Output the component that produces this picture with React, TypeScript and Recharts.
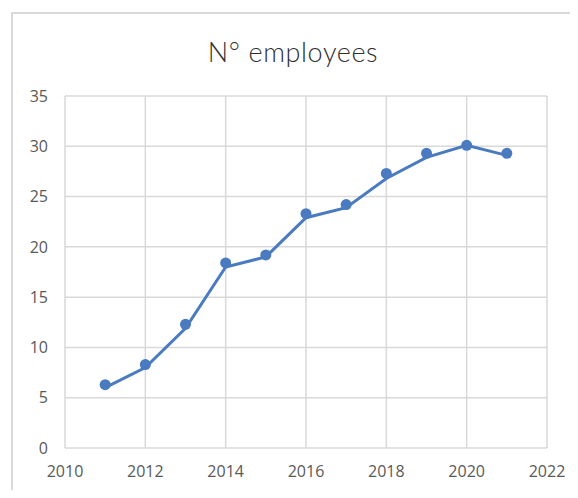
import React from "react";
import { ComposedChart, Line, Scatter, XAxis, YAxis, CartesianGrid } from "recharts";

const years = [2011, 2012, 2013, 2014, 2015, 2016, 2017, 2018, 2019, 2020, 2021];
const employees = [6.3, 8.3, 12.3, 18.4, 19.2, 23.3, 24.2, 27.3, 29.3, 30.1, 29.3];
const trend = [6.0, 8.0, 11.9, 18.0, 19.0, 22.9, 23.9, 26.8, 28.9, 30.1, 29.1];
const xTicks = [2010, 2012, 2014, 2016, 2018, 2020, 2022];
const yTicks = [0, 5, 10, 15, 20, 25, 30, 35];
const title = "N° employees";

const dotData = years.map((y, i) => ({ year: y, value: employees[i] }));
const lineData = years.map((y, i) => ({ year: y, value: trend[i] }));

const BLUE = "#4a7bc0";
const tickStyle = { fill: "#595959", fontSize: 16, fontFamily: "Open Sans, sans-serif" };

export default function App() {
  return (
    <div style={{ position: "relative", width: 578, height: 498, margin: -8, overflow: "hidden", background: "#fff" }}>
      <div
        style={{
          position: "absolute",
          left: 11,
          top: 12,
          width: 590,
          height: 485,
          border: "2px solid #d9d9d9",
          boxSizing: "border-box",
        }}
      />
      <div
        style={{
          position: "absolute",
          left: 0,
          top: 35,
          width: 586,
          textAlign: "center",
          fontFamily: "Lato, sans-serif",
          fontWeight: 300,
          fontSize: 27,
          letterSpacing: 0.6,
          color: "#2f2f2f",
        }}
      >
        {title}
      </div>
      <div style={{ position: "absolute", left: 0, top: 0 }}>
        <ComposedChart width={578} height={498} margin={{ top: 96, right: 31, left: 0, bottom: 20 }}>
          <CartesianGrid stroke="#d9d9d9" strokeWidth={1.5} vertical horizontal />
          <XAxis
            type="number"
            dataKey="year"
            domain={[2010, 2022]}
            ticks={xTicks}
            height={30}
            axisLine={false}
            tickLine={false}
            tickSize={0}
            tickMargin={18}
            tick={tickStyle}
            allowDataOverflow
          />
          <YAxis
            type="number"
            dataKey="value"
            domain={[0, 35]}
            ticks={yTicks}
            width={65}
            axisLine={false}
            tickLine={false}
            tickSize={0}
            tickMargin={17}
            tick={tickStyle}
          />
          <Line
            data={lineData}
            dataKey="value"
            type="linear"
            stroke={BLUE}
            strokeWidth={3}
            dot={false}
            isAnimationActive={false}
          />
          <Scatter data={dotData} dataKey="value" fill={BLUE} isAnimationActive={false} shape={(p: any) => <circle cx={p.cx} cy={p.cy} r={5.5} fill={BLUE} />} />
        </ComposedChart>
      </div>
    </div>
  );
}
